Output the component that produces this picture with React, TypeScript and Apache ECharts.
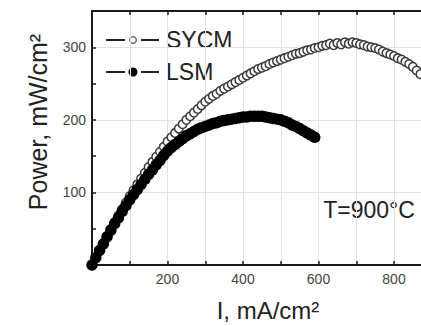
import React, { useEffect, useRef } from "react";
import * as echarts from "echarts";

// Current density (mA/cm2) and power density (mW/cm2)
const sycmCurrent = [
  0, 10, 20, 30, 40, 50, 60, 70, 80, 90, 100, 110, 120, 130, 140, 150, 160, 170, 180, 190,
  200, 210, 220, 230, 240, 250, 260, 270, 280, 290, 300, 310, 320, 330, 340, 350, 360, 370, 380, 390,
  400, 410, 420, 430, 440, 450, 460, 470, 480, 490, 500, 510, 520, 530, 540, 550, 560, 570, 580, 590,
  600, 610, 620, 630, 640, 650, 660, 670, 680, 690, 700, 710, 720, 730, 740, 750, 760, 770, 780, 790,
  800, 810, 820, 830, 840, 850, 860, 870,
];
const sycmPower = [
  0, 10, 20, 30, 40, 50, 59, 68, 77, 86, 95, 103, 111, 119, 127, 135, 142, 149, 156, 163,
  170, 176, 182, 188, 194, 200, 205, 210, 215, 220, 225, 229, 233, 236, 240, 243, 246, 249, 252, 255,
  258, 261, 264, 267, 270, 272, 274, 277, 279, 281, 283, 285, 287, 289, 291, 292, 294, 296, 297, 299,
  300, 302, 303, 305, 303, 306, 304, 307, 305, 307, 306, 304, 303, 301, 300, 299, 297, 294, 292, 290,
  288, 285, 283, 280, 277, 273, 268, 263,
];
const lsmCurrent = [
  0, 10, 20, 30, 40, 50, 60, 70, 80, 90, 100, 110, 120, 130, 140, 150, 160, 170, 180, 190,
  200, 210, 220, 230, 240, 250, 260, 270, 280, 290, 300, 310, 320, 330, 340, 350, 360, 370, 380, 390,
  400, 410, 420, 430, 440, 450, 460, 470, 480, 490, 500, 510, 520, 530, 540, 550, 560, 570, 580, 590,
];
const lsmPower = [
  0, 10, 20, 29, 39, 48, 57, 65, 74, 82, 90, 97, 104, 111, 118, 125, 131, 138, 144, 151,
  157, 162, 166, 170, 174, 178, 181, 184, 187, 189, 191, 193, 195, 196, 198, 199, 200, 201, 202, 203,
  204, 204, 205, 205, 205, 205, 204, 203, 202, 201, 200, 198, 196, 193, 191, 188, 185, 182, 179, 176,
];
const xTickLabels = [200, 400, 600, 800];
const yTickLabels = [100, 200, 300];
const seriesNames = ["SYCM", "LSM"];

const FONT = "'Liberation Sans', Arial, sans-serif";

export default function App() {
  const ref = useRef<HTMLDivElement>(null);
  useEffect(() => {
    if (!ref.current) return;
    const chart = echarts.init(ref.current, null, { renderer: "svg" });
    const axisLine = { show: true, lineStyle: { color: "#1a1a1a", width: 2 } };
    const tick = { show: true, inside: true, length: 4, lineStyle: { color: "#1a1a1a", width: 1.5 } };
    chart.setOption({
      animation: false,
      backgroundColor: "#ffffff",
      grid: { left: 92, top: 11, bottom: 61, width: 377.5, containLabel: false, outerBoundsMode: "none" },
      xAxis: [
        {
          type: "value",
          min: 0,
          max: 1000,
          interval: 100,
          axisLine,
          axisTick: tick,
          axisLabel: {
            color: "#444",
            fontFamily: FONT,
            fontSize: 14,
            margin: 7,
            formatter: (v: number) => (xTickLabels.includes(v) ? String(v) : ""),
          },
          splitLine: { show: true, lineStyle: { color: "#e2e2e2", width: 1 } },
        },
        {
          type: "value",
          position: "top",
          min: 0,
          max: 1000,
          interval: 100,
          axisLine,
          axisTick: tick,
          axisLabel: { show: false },
          splitLine: { show: false },
        },
      ],
      yAxis: {
        type: "value",
        min: 0,
        max: 350,
        interval: 50,
        axisLine,
        axisTick: tick,
        axisLabel: {
          color: "#444",
          fontFamily: FONT,
          fontSize: 14,
          margin: 6,
          formatter: (v: number) => (yTickLabels.includes(v) ? String(v) : ""),
        },
        splitLine: { show: true, lineStyle: { color: ["#e2e2e2", "rgba(0,0,0,0)"], width: 1 } },
      },
      series: [
        {
          name: seriesNames[0],
          type: "scatter",
          data: sycmCurrent.map((c, i) => [c, sycmPower[i]]),
          symbol: "circle",
          symbolSize: 8.5,
          itemStyle: { color: "#ffffff", borderColor: "#3a3a3a", borderWidth: 1.5, opacity: 1 },
          z: 3,
        },
        {
          name: seriesNames[1],
          type: "scatter",
          data: lsmCurrent.map((c, i) => [c, lsmPower[i]]),
          symbol: "circle",
          symbolSize: 11.5,
          itemStyle: { color: "#000000", borderWidth: 0, opacity: 1 },
          z: 4,
        },
      ],
      graphic: [
        // legend
        { type: "line", shape: { x1: 106, y1: 40, x2: 125, y2: 40 }, style: { stroke: "#222", lineWidth: 2 } },
        { type: "line", shape: { x1: 141, y1: 40, x2: 159, y2: 40 }, style: { stroke: "#222", lineWidth: 2 } },
        { type: "circle", shape: { cx: 133, cy: 40, r: 3.3 }, style: { fill: "#fff", stroke: "#666", lineWidth: 1.3 } },
        {
          type: "text",
          x: 166,
          y: 40,
          style: { text: seriesNames[0], fontFamily: FONT, fontSize: 23, fill: "#222", verticalAlign: "middle", align: "left" },
        },
        { type: "line", shape: { x1: 106, y1: 72, x2: 125, y2: 72 }, style: { stroke: "#222", lineWidth: 2 } },
        { type: "line", shape: { x1: 141, y1: 72, x2: 159, y2: 72 }, style: { stroke: "#222", lineWidth: 2 } },
        { type: "circle", shape: { cx: 133, cy: 72, r: 4.5 }, style: { fill: "#000" } },
        {
          type: "text",
          x: 166,
          y: 72,
          style: { text: seriesNames[1], fontFamily: FONT, fontSize: 23, fill: "#222", verticalAlign: "middle", align: "left" },
        },
        // annotation
        {
          type: "text",
          x: 369,
          y: 210,
          style: { text: "T=900°C", fontFamily: FONT, fontSize: 23, fill: "#222", verticalAlign: "middle", align: "center" },
        },
        // axis titles
        {
          type: "text",
          x: 268,
          y: 310,
          style: { text: "I, mA/cm²", fontFamily: FONT, fontSize: 24, fill: "#222", verticalAlign: "middle", align: "center" },
        },
        {
          type: "text",
          x: 38,
          y: 122,
          rotation: Math.PI / 2,
          style: { text: "Power, mW/cm²", fontFamily: FONT, fontSize: 25, fill: "#222", verticalAlign: "middle", align: "center" },
        },
      ],
    });
    return () => chart.dispose();
  }, []);
  return <div ref={ref} style={{ position: "fixed", left: 0, top: 0, width: 421, height: 326, overflow: "hidden" }} />;
}
